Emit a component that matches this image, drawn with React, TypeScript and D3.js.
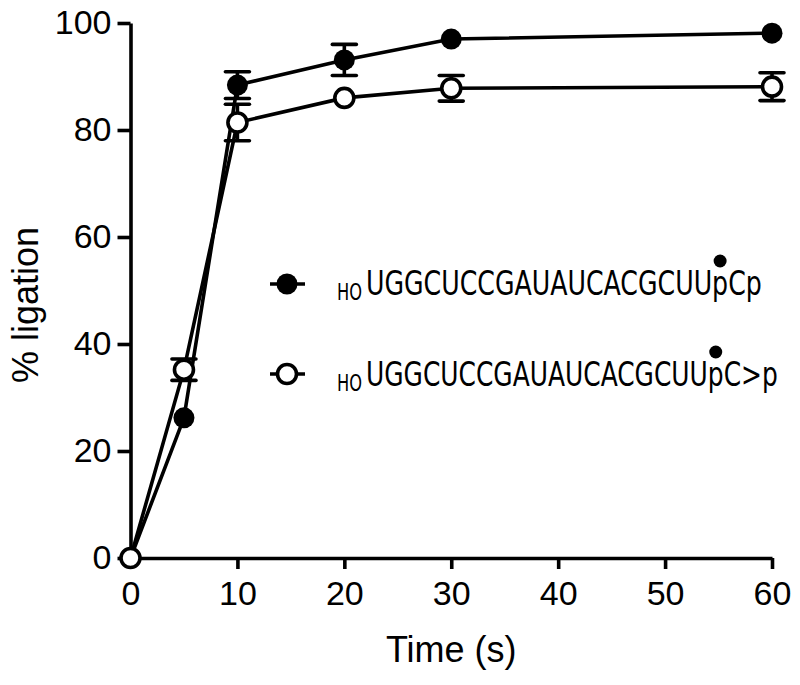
import React, { useEffect, useRef } from 'react';
import * as d3 from 'd3';

const times = [0, 5, 10, 20, 30, 60];
const linearMean = [0, 26.2, 88.4, 93.1, 97.0, 98.1];
const linearErr = [0, 0, 2.5, 2.9, 0, 0];
const cyclicMean = [0, 35.2, 81.4, 86.0, 87.8, 88.1];
const cyclicErr = [0, 2.0, 3.4, 0, 2.4, 2.6];

const xTicks = [0, 10, 20, 30, 40, 50, 60];
const yTicks = [0, 20, 40, 60, 80, 100];

const seqMain = 'UGGCUCCGAUAUCACGCUU';
const legendRows = [
  { tail: 'pCp', filled: true, width: 396 },
  { tail: 'pC>p', filled: false, width: 412 },
];

const App = () => {
  const ref = useRef<SVGSVGElement | null>(null);

  useEffect(() => {
    document.body.style.margin = '0';
    const svg = d3.select(ref.current);
    svg.selectAll('*').remove();

    const x = d3.scaleLinear([0, 60], [130.5, 772]);
    const y = d3.scaleLinear([0, 100], [558, 23]);
    const sw = 3.6;

    // axes
    const gx = svg.append('g')
      .attr('transform', `translate(0, ${y(0)})`)
      .call(d3.axisBottom(x).tickValues(xTicks).tickSize(11).tickSizeOuter(0).tickPadding(12));
    const gy = svg.append('g')
      .attr('transform', `translate(${x(0)}, 0)`)
      .call(d3.axisLeft(y).tickValues(yTicks).tickSize(13).tickSizeOuter(0).tickPadding(6));
    [gx, gy].forEach(g => {
      g.select('.domain').attr('stroke', '#000').attr('stroke-width', sw);
      g.selectAll('.tick line').attr('stroke', '#000').attr('stroke-width', sw);
      g.selectAll('.tick text')
        .attr('fill', '#000')
        .style('font-family', '"Liberation Sans", Arial, sans-serif')
        .style('font-size', '34px');
    });

    svg.append('text')
      .attr('x', x(30))
      .attr('y', 662)
      .attr('text-anchor', 'middle')
      .style('font-family', '"Liberation Sans", Arial, sans-serif')
      .style('font-size', '36px')
      .text('Time (s)');
    svg.append('text')
      .attr('transform', `translate(38, 305) rotate(-90)`)
      .attr('text-anchor', 'middle')
      .style('font-family', '"Liberation Sans", Arial, sans-serif')
      .style('font-size', '36px')
      .text('% ligation');

    const series = [
      { mean: linearMean, err: linearErr, filled: true },
      { mean: cyclicMean, err: cyclicErr, filled: false },
    ];

    const line = d3.line<number>()
      .x((_, i) => x(times[i]))
      .y(d => y(d));

    series.forEach(s => {
      svg.append('path')
        .datum(s.mean)
        .attr('fill', 'none')
        .attr('stroke', '#000')
        .attr('stroke-width', sw)
        .attr('d', line);
    });

    series.forEach(s => {
      const g = svg.append('g');
      times.forEach((t, i) => {
        const e = s.err[i];
        if (e <= 0) return;
        const cx = x(t);
        g.append('line')
          .attr('x1', cx).attr('x2', cx)
          .attr('y1', y(s.mean[i] - e)).attr('y2', y(s.mean[i] + e))
          .attr('stroke', '#000').attr('stroke-width', sw);
        [s.mean[i] - e, s.mean[i] + e].forEach(v => {
          g.append('line')
            .attr('x1', cx - 12).attr('x2', cx + 12)
            .attr('y1', y(v)).attr('y2', y(v))
            .attr('stroke', '#000').attr('stroke-width', sw)
            .attr('stroke-linecap', 'round');
        });
      });
      g.selectAll('circle')
        .data(s.mean)
        .enter()
        .append('circle')
        .attr('cx', (_, i) => x(times[i]))
        .attr('cy', d => y(d))
        .attr('r', s.filled ? 10.5 : 9.5)
        .attr('fill', s.filled ? '#000' : '#fff')
        .attr('stroke', '#000')
        .attr('stroke-width', s.filled ? 0 : sw);
    });

    // legend: condensed text, squeezed horizontally to the width seen in the figure
    const squeeze = (t: d3.Selection<SVGTextElement, unknown, null, undefined>, x0: number, yb: number, w: number) => {
      const natural = (t.node() as SVGTextElement).getComputedTextLength() || w;
      const sx = w / natural;
      t.attr('transform', `translate(${x0}, ${yb}) scale(${sx}, 1)`);
      return sx;
    };

    legendRows.forEach((row, k) => {
      const cy = 284 + k * 90;
      const base = 295 + k * 91;
      const g = svg.append('g');
      g.append('line')
        .attr('x1', 270).attr('x2', 305)
        .attr('y1', cy).attr('y2', cy)
        .attr('stroke', '#000').attr('stroke-width', sw);
      g.append('circle')
        .attr('cx', 287).attr('cy', cy)
        .attr('r', row.filled ? 10.5 : 9.5)
        .attr('fill', row.filled ? '#000' : '#fff')
        .attr('stroke', '#000')
        .attr('stroke-width', row.filled ? 0 : sw);
      const ho = g.append('text')
        .style('font-family', '"DejaVu Sans Condensed", "DejaVu Sans", sans-serif')
        .style('font-size', '23px')
        .text('HO');
      squeeze(ho, 337, base + 5, 25);
      const t = g.append('text')
        .style('font-family', '"DejaVu Sans Condensed", "DejaVu Sans", sans-serif')
        .style('font-size', '34px')
        .text(seqMain + row.tail);
      const sx = squeeze(t, 366, base, row.width);
      const node = t.node() as SVGTextElement;
      const idx = seqMain.length;
      let px = 718;
      try {
        const a = node.getStartPositionOfChar(idx).x;
        const b = node.getEndPositionOfChar(idx).x;
        px = 366 + sx * (a + b) / 2;
      } catch (err) { /* keep default */ }
      g.append('circle')
        .attr('cx', px).attr('cy', base - 34)
        .attr('r', 6.5)
        .attr('fill', '#000');
    });
  }, []);

  return (
    <svg ref={ref} width={800} height={685} style={{ display: 'block', background: '#fff' }} />
  );
};

export default App;
